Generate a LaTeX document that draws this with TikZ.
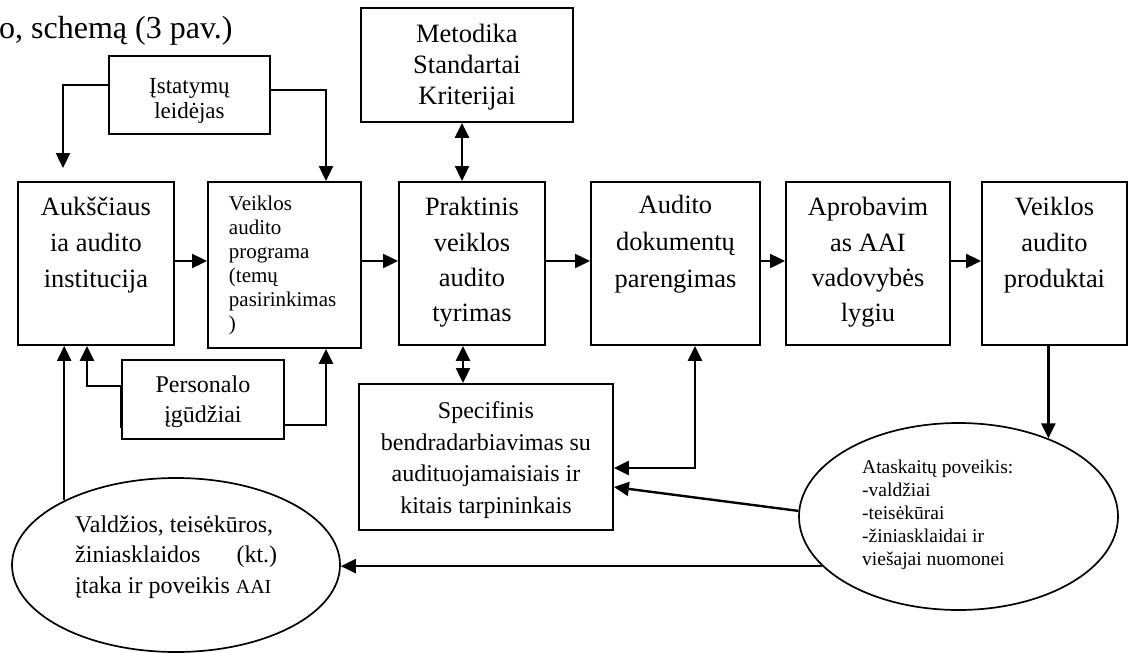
\documentclass[tikz,border=0pt]{standalone}
\usepackage{fontspec}
\setmainfont{Liberation Serif}
\usetikzlibrary{arrows.meta,calc,shapes.geometric}
\newcommand{\btxt}[6]{\parbox[c][#2pt][t]{#1pt}{\fontsize{#3}{#4}\selectfont\centering\leavevmode\rule{0pt}{#5pt}\ignorespaces#6}}
\begin{document}
\begin{tikzpicture}[x=1pt,y=-1pt,
  box/.style={draw, line width=1.9pt, inner sep=0pt, anchor=north west},
  ell/.style={draw, ellipse, line width=1.7pt, inner sep=0pt},
  txt/.style={inner sep=0pt, anchor=base west},
  >={Triangle[length=15pt,width=14pt]},
  arr/.style={line width=2.4pt, ->},
  dbl/.style={line width=2.4pt, <->}]
\useasboundingbox (0,0) rectangle (1130,653);

\node[txt] (title) at (-1,38) {\fontsize{32}{32}\selectfont o, schemą (3 pav.)};

\node[box] (ist) at (108,55) {\btxt{161}{78}{23}{25}{38}{Įstatymų\\leidėjas}};
\node[box] (met) at (360,7) {\btxt{212}{114}{26.5}{31}{35}{Metodika\\Standartai\\Kriterijai}};
\node[box] (auk) at (17,181) {\btxt{156}{163}{26.4}{36}{34}{Aukščiaus\\ia audito\\institucija}};
\node[box] (vap) at (207,181) {\parbox[c][166pt][t]{153pt}{\fontsize{21}{24}\selectfont\raggedright\leftskip=21pt\leavevmode\rule{0pt}{29pt}\ignorespaces Veiklos\\audito\\programa\\(temų\\pasirinkimas\\)}};
\node[box] (prak) at (398,181) {\btxt{146}{163}{26.4}{35.3}{34}{Praktinis\\veiklos\\audito\\tyrimas}};
\node[box] (aud) at (590,181) {\btxt{169}{163}{26.4}{37}{32}{Audito\\dokumentų\\parengimas}};
\node[box] (apr) at (785,181) {\btxt{164}{163}{26.4}{35.3}{34}{Aprobavim\\as AAI\\vadovybės\\lygiu}};
\node[box] (vap2) at (981,181) {\btxt{145}{163}{26.4}{36}{34}{Veiklos\\audito\\produktai}};
\node[box] (pers) at (121,359) {\btxt{162}{79}{24}{30}{33}{Personalo\\įgūdžiai}};
\node[box] (spec) at (358,383) {\btxt{254}{146}{24}{31.5}{35}{Specifinis\\bendradarbiavimas su\\audituojamaisiais ir\\kitais tarpininkais}};

\node[ell, minimum width=328pt, minimum height=174pt] (val) at (176,565) {};
\node[txt] (valtxt) at (75,532) {\parbox[t]{202pt}{\fontsize{24}{30.5}\selectfont Valdžios, teisėkūros,\\ žiniasklaidos\hfill(kt.)\\ įtaka ir poveikis {\fontsize{20}{30}\selectfont AAI}}};
\node[ell, minimum width=319pt, minimum height=187pt] (ata) at (958.5,516.5) {};
\node[txt] (atatxt) at (862,473) {\parbox[t]{240pt}{\fontsize{19.5}{23}\selectfont\raggedright Ataskaitų poveikis:\\-valdžiai\\-teisėkūrai\\-žiniasklaidai ir\\viešajai nuomonei}};

\coordinate (istL) at (63,168);
\draw[arr] ($(ist.north west)+(0,30)$) -| (istL);
\draw[arr] ($(ist.north east)+(0,35)$) -| ($(vap.north west)+(119,0)$);
\draw[dbl] ($(met.south west)+(102,0)$) -- ($(prak.north west)+(64,0)$);

\draw[arr] ($(auk.north east)+(0,80)$) -- ($(vap.north west)+(0,80)$);
\draw[arr] ($(vap.north east)+(0,80)$) -- ($(prak.north west)+(0,80)$);
\draw[arr] ($(prak.north east)+(0,80)$) -- ($(aud.north west)+(0,80)$);
\draw[arr] ($(aud.north east)+(0,80)$) -- ($(apr.north west)+(0,80)$);
\draw[arr] ($(apr.north east)+(0,80)$) -- ($(vap2.north west)+(0,80)$);

\draw[dbl] ($(prak.south west)+(65,0)$) -- ($(spec.north west)+(105,0)$);
\draw[dbl] ($(spec.north east)+(0,85)$) -| ($(aud.south west)+(105,0)$);

\draw[arr] ($(pers.north west)+(0,69)$) -- ($(pers.north west)+(0,27)$) -| ($(auk.south west)+(70,0)$);
\draw[arr] ($(pers.north east)+(0,66)$) -| ($(vap.south west)+(119,0)$);

\draw[arr] (val.150.9) -- (val.150.9 |- auk.south);
\draw[arr] (ata.41.3 |- vap2.south) -- (ata.41.3);
\draw[arr] (ata.178) -- ($(spec.north east)+(0,104)$);
\draw[arr] (ata.200.6) -- (ata.200.6 -| val.east);
\end{tikzpicture}
\end{document}
